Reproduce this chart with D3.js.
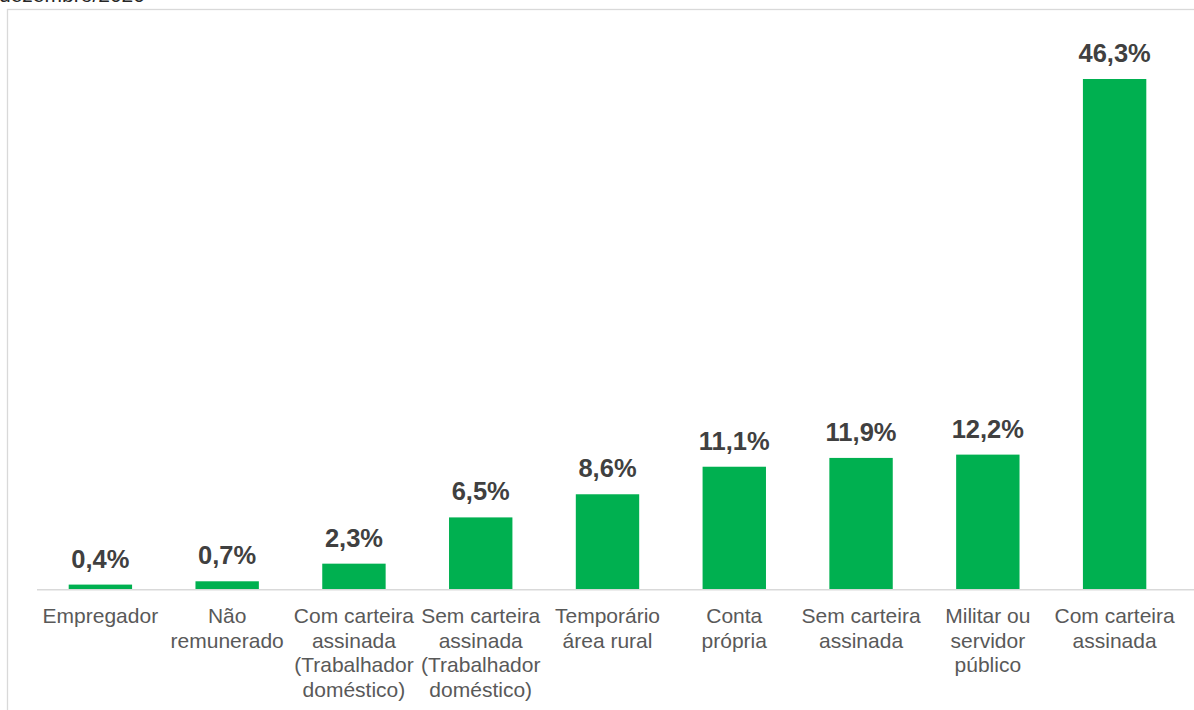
<!DOCTYPE html>
<html>
<head>
<meta charset="utf-8">
<script src="https://cdn.jsdelivr.net/npm/d3@7"></script>
<style>
  body { margin: 0; background: #fff; }
  svg { display: block; font-family: "Liberation Sans", Arial, sans-serif; }
</style>
</head>
<body>
<div id="chart"></div>
<script>
const svgWidth = 1194;
const svgHeight = 710;
const barColor = "#00B050";
const frameColor = "#d9d9d9";

// categories, one entry per line of the label
const categories = [
  ["Empregador"],
  ["Não", "remunerado"],
  ["Com carteira", "assinada", "(Trabalhador", "doméstico)"],
  ["Sem carteira", "assinada", "(Trabalhador", "doméstico)"],
  ["Temporário", "área rural"],
  ["Conta", "própria"],
  ["Sem carteira", "assinada"],
  ["Militar ou", "servidor", "público"],
  ["Com carteira", "assinada"]
];
const values = [0.4, 0.7, 2.3, 6.5, 8.6, 11.1, 11.9, 12.2, 46.3];
const titleText = "dezembro/2020";

const baseY = 589;
const topY = 79;
const plotLeft = 37;
const plotRight = 1178;

let svg = d3.select("#chart").append("svg")
  .attr("width", svgWidth)
  .attr("height", svgHeight);

// clipped title above the frame
svg.append("text")
  .attr("x", -1)
  .attr("y", 2)
  .text(titleText)
  .style("font-size", "21px")
  .attr("fill", "#262626");

// chart frame
svg.append("rect")
  .attr("x", 7.5)
  .attr("y", 9.5)
  .attr("width", svgWidth + 20)
  .attr("height", svgHeight + 20)
  .attr("fill", "none")
  .attr("stroke", frameColor)
  .attr("stroke-width", 1.3);

let idx = d3.range(values.length);
let x = d3.scaleBand()
  .domain(idx)
  .range([plotLeft, plotRight])
  .paddingInner(0.5)
  .paddingOuter(0.25);

let y = d3.scaleLinear()
  .domain([0, 46.3])
  .range([baseY, topY]);

// bars
svg.selectAll("rect.bar")
  .data(idx)
  .enter()
  .append("rect")
  .attr("class", "bar")
  .attr("x", d => x(d))
  .attr("y", d => y(values[d]))
  .attr("width", x.bandwidth())
  .attr("height", d => baseY - y(values[d]))
  .attr("fill", barColor);

// baseline
svg.append("line")
  .attr("x1", plotLeft)
  .attr("x2", svgWidth)
  .attr("y1", baseY + 0.7)
  .attr("y2", baseY + 0.7)
  .attr("stroke", frameColor)
  .attr("stroke-width", 1.4);

// value labels
svg.selectAll("text.value")
  .data(idx)
  .enter()
  .append("text")
  .attr("class", "value")
  .attr("x", d => x(d) + x.bandwidth() / 2)
  .attr("y", d => y(values[d]) - 17)
  .attr("text-anchor", "middle")
  .style("font-size", "25.5px")
  .style("font-weight", "bold")
  .attr("fill", "#404040")
  .text(d => values[d].toFixed(1).replace(".", ",") + "%");

// category labels
let catText = svg.selectAll("text.cat")
  .data(idx)
  .enter()
  .append("text")
  .attr("class", "cat")
  .attr("text-anchor", "middle")
  .style("font-size", "21px")
  .attr("fill", "#595959");

catText.selectAll("tspan")
  .data(d => categories[d].map(line => ({ line: line, cx: x(d) + x.bandwidth() / 2 })))
  .enter()
  .append("tspan")
  .attr("x", t => t.cx)
  .attr("y", (t, i) => 623 + i * 24.5)
  .text(t => t.line);
</script>
</body>
</html>
